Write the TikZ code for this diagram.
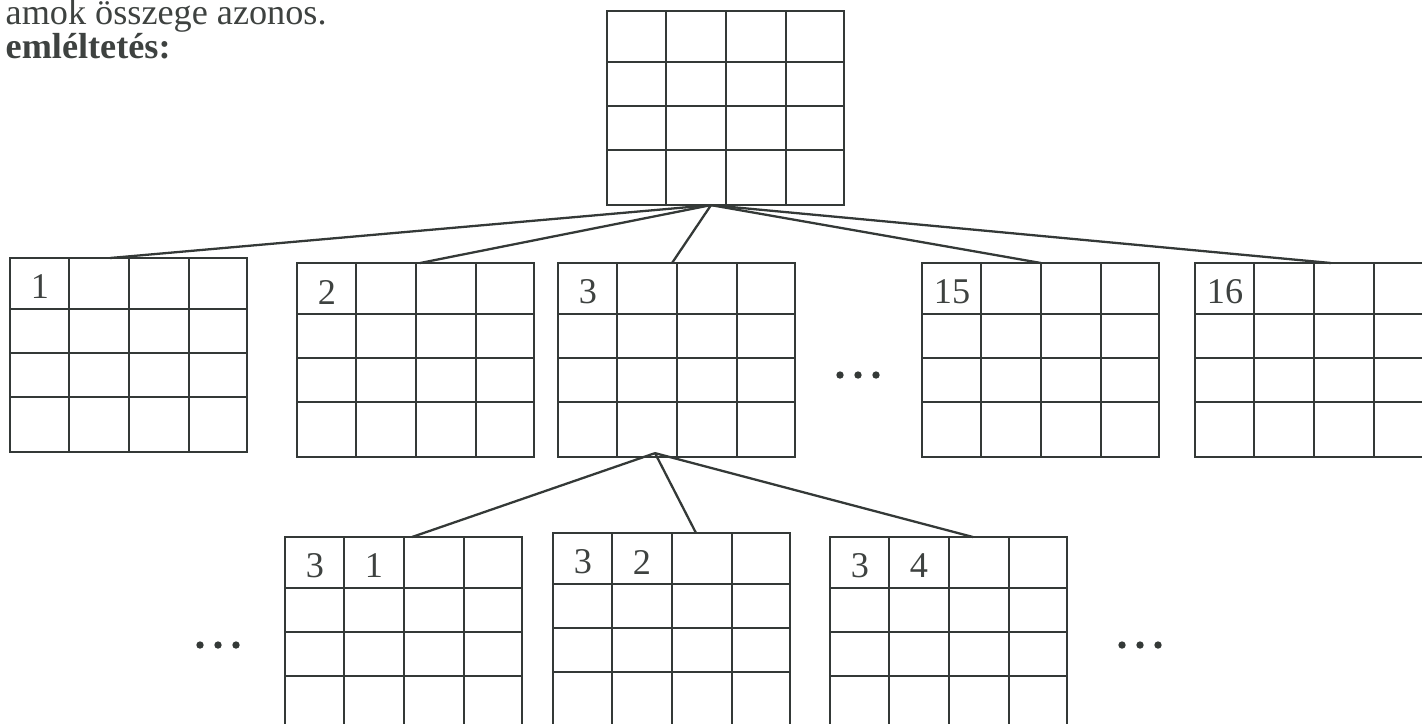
\documentclass[tikz,border=0pt]{standalone}
\usepackage{fontspec}
\setmainfont{Liberation Serif}
\usetikzlibrary{positioning, calc}
\definecolor{tinta}{HTML}{343937}
\definecolor{betu}{HTML}{3E4240}

\newcommand{\tabla}[5]{%
  \node[tablabox, anchor=north west] (#1) at (#2,#3) {};
  \foreach \c in {59,119,179}
    \draw[racs] ($(#1.north west)+(\c,0)$) -- ($(#1.south west)+(\c,0)$);
  \foreach \r in {51,95,139}
    \draw[racs] ($(#1.north west)+(0,\r)$) -- ($(#1.north east)+(0,\r)$);
  \node[szam] (#1-a) at ($(#1.north west)+(30,29)$) {#4};
  \node[szam] (#1-b) at ($(#1.north west)+(89,29)$) {#5};
}

\begin{document}
\begin{tikzpicture}[
    x=0.01cm, y=-0.01cm,
    tablabox/.style={
      draw=tinta,
      line width=0.75pt,
      minimum width=2.37cm,
      minimum height=1.94cm,
      inner sep=0pt,
      outer sep=0pt
    },
    racs/.style={draw=tinta, line width=0.75pt},
    vonal/.style={draw=tinta, line width=0.65pt},
    szam/.style={font=\fontsize{10.3}{12}\selectfont, text=betu, inner sep=0pt},
    szoveg/.style={font=\fontsize{10.3}{12}\selectfont, text=betu, inner sep=0pt}
  ]
    \useasboundingbox (0,0) rectangle (1422,723);
    \clip (0,0) rectangle (1422,723);

    \node[szoveg, anchor=base west] (sor) at (5,24) {amok összege azonos.};
    \node[szoveg, font=\fontsize{10.3}{12}\selectfont\bfseries, anchor=base west] (cim) at (5,58) {emléltetés:};

    \tabla{fo}{607}{11}{}{}
    \tabla{t1}{10}{258}{1}{}
    \tabla{t2}{297}{263}{2}{}
    \tabla{t3}{558}{263}{3}{}
    \tabla{t15}{922}{263}{15}{}
    \tabla{t16}{1195}{263}{16}{}
    \tabla{t31}{285}{537}{3}{1}
    \tabla{t32}{553}{533}{3}{2}
    \tabla{t34}{830}{537}{3}{4}

    \coordinate (fo-alj) at ($(fo.south west)+(104,0)$);
    \coordinate (t3-alj) at ($(t3.south west)+(97,-4)$);

    \draw[vonal] (fo-alj) -- ($(t1.north west)+(100,0)$);
    \draw[vonal] (fo-alj) -- ($(t2.north west)+(123,0)$);
    \draw[vonal] (fo-alj) -- ($(t3.north west)+(114,0)$);
    \draw[vonal] (fo-alj) -- ($(t15.north west)+(119,0)$);
    \draw[vonal] (fo-alj) -- ($(t16.north west)+(136,0)$);

    \draw[vonal] (t3-alj) -- ($(t31.north west)+(127,0)$);
    \draw[vonal] (t3-alj) -- ($(t32.north west)+(143,0)$);
    \draw[vonal] (t3-alj) -- ($(t34.north west)+(143,0)$);

    \foreach \px/\py in {858/375,218/645,1140/645}
      \foreach \d in {-18,0,18}
        \fill[tinta] (\px+\d,\py) circle[radius=1.05pt];
  \end{tikzpicture}
\end{document}
